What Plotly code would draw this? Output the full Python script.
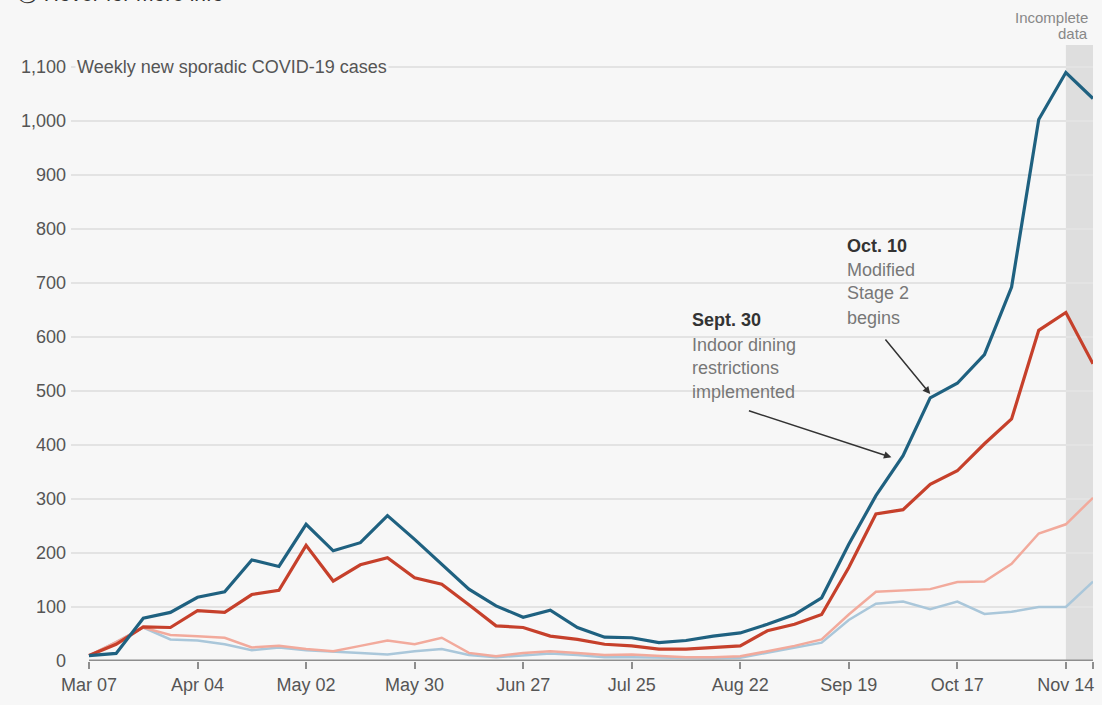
import plotly.graph_objects as go
import pandas as pd

# ---- data -------------------------------------------------------------
start_date = "2020-03-07"
n_weeks = 38
dates = pd.date_range(start_date, periods=n_weeks, freq="7D")

blue = [10, 14, 79, 90, 118, 128, 187, 175, 253, 204, 219, 269, 225, 180, 133, 102,
        81, 94, 62, 44, 43, 34, 38, 46, 52, 68, 86, 117, 216, 306, 380, 487, 514,
        567, 692, 1002, 1089, 1041]
red = [10, 31, 63, 62, 93, 90, 123, 131, 214, 148, 178, 191, 154, 142, 104, 65,
       62, 46, 40, 31, 28, 22, 22, 25, 28, 56, 68, 86, 173, 272, 280, 327, 352,
       402, 448, 612, 645, 550]
light_red = [10, 35, 62, 48, 46, 43, 25, 28, 22, 18, 28, 38, 31, 43, 15, 9, 15,
             18, 15, 11, 12, 9, 7, 7, 9, 18, 28, 40, 86, 128, 130, 133, 146, 147,
             180, 236, 253, 302]
light_blue = [10, 35, 62, 40, 38, 31, 20, 25, 20, 18, 15, 12, 18, 22, 11, 7, 11,
              14, 11, 7, 7, 6, 5, 5, 6, 15, 25, 34, 76, 106, 110, 96, 110, 87, 91,
              100, 100, 147]

tick_dates = ["2020-03-07", "2020-04-04", "2020-05-02", "2020-05-30", "2020-06-27",
              "2020-07-25", "2020-08-22", "2020-09-19", "2020-10-17", "2020-11-14",
              "2020-11-21"]
tick_labels = ["Mar 07", "Apr 04", "May 02", "May 30", "Jun 27", "Jul 25", "Aug 22",
               "Sep 19", "Oct 17", "Nov 14", ""]
y_ticks = [0, 100, 200, 300, 400, 500, 600, 700, 800, 900, 1000, 1100]
y_labels = ["0", "100", "200", "300", "400", "500", "600", "700", "800", "900",
            "1,000", "1,100"]

incomplete_start = "2020-11-14"
incomplete_end = "2020-11-21"
sept30 = "2020-09-30"
oct10 = "2020-10-10"

# ---- layout geometry ---------------------------------------------------
W, H = 1102, 705
L, R, T, B = 71, 9, 45, 44
PW = W - L - R
PH = H - T - B
FONT = "Liberation Sans, Arial, Helvetica, sans-serif"
BG = "#f7f7f7"


def px(x):
    return (x - L) / PW


def py(y):
    return (H - B - y) / PH


fig = go.Figure()

series = [
    (light_blue, "#aac7da", 2.5),
    (light_red, "#f2aa9c", 2.5),
    (red, "#c6402b", 3.2),
    (blue, "#1f6180", 3.2),
]
for vals, col, w in series:
    fig.add_trace(go.Scatter(x=dates, y=vals, mode="lines",
                             line=dict(color=col, width=w),
                             hoverinfo="x+y", showlegend=False))

shapes = [
    dict(type="rect", xref="x", yref="paper", x0=incomplete_start, x1=incomplete_end,
         y0=0, y1=1, fillcolor="#dedede", line=dict(width=0), layer="below"),
    dict(type="line", xref="x", yref="y", x0=tick_dates[0], x1=incomplete_end,
         y0=0, y1=0, line=dict(color="#8e8e8e", width=3), layer="above"),
]

annotations = []


def text(x, y, s, size=18, color="#777", bold=False, xanchor="left", bg=None):
    d = dict(xref="paper", yref="paper", x=px(x), y=py(y), text=("<b>%s</b>" % s if bold else s),
             showarrow=False, xanchor=xanchor, yanchor="middle",
             font=dict(family=FONT, size=size, color=color))
    if bg:
        d["bgcolor"] = bg
    annotations.append(d)


text(75, 67, "Weekly new sporadic COVID-19 cases", size=18, color="#555", bg=BG)

# Sept 30
text(690, 320, "Sept. 30", color="#333", bold=True)
text(690, 345, "Indoor dining")
text(690, 368, "restrictions")
text(690, 392, "implemented")
# Oct 10
text(845, 246, "Oct. 10", color="#333", bold=True)
text(845, 270, "Modified")
text(845, 293, "Stage 2")
text(845, 318, "begins")

# incomplete data
text(1090, 17, "Incomplete", size=15, color="#888", xanchor="right")
text(1090, 33, "data", size=15, color="#888", xanchor="right")

# hover hint at the very top (cut off in the reference too)
annotations.append(dict(xref="paper", yref="paper", x=px(15), y=py(7), text="ⓘ Hover for more info",
                        showarrow=False, xanchor="left", yanchor="bottom",
                        font=dict(family=FONT, size=21, color="#333")))

# arrows
annotations.append(dict(xref="x", yref="y", x=sept30, y=377, text="", showarrow=True,
                        ax=-144, ay=-47, arrowhead=2, arrowsize=1, arrowwidth=1.5,
                        arrowcolor="#333", standoff=0))
annotations.append(dict(xref="x", yref="y", x=oct10, y=494, text="", showarrow=True,
                        ax=-46, ay=-56, arrowhead=2, arrowsize=1, arrowwidth=1.5,
                        arrowcolor="#333", standoff=0))

xr0 = pd.Timestamp(tick_dates[0]) - pd.Timedelta(days=7 * 18 / 27.14)
fig.update_layout(
    width=W, height=H, autosize=False,
    margin=dict(l=L, r=R, t=T, b=B, pad=0),
    paper_bgcolor=BG, plot_bgcolor=BG,
    font=dict(family=FONT, size=18, color="#555"),
    shapes=shapes, annotations=annotations,
    showlegend=False,
    xaxis=dict(type="date", range=[xr0, pd.Timestamp(incomplete_end)],
               tickvals=tick_dates, ticktext=tick_labels,
               ticks="outside", ticklen=7, tickwidth=2, tickcolor="#8e8e8e",
               showgrid=False, zeroline=False, showline=False,
               tickfont=dict(family=FONT, size=18, color="#555")),
    yaxis=dict(range=[0, 1140], tickvals=y_ticks, ticktext=y_labels,
               showgrid=True, gridcolor="#e3e3e3", gridwidth=1.5,
               zeroline=False, showline=False, ticks="",
               ticklabelstandoff=4,
               tickfont=dict(family=FONT, size=18, color="#555")),
)

fig.write_html("out.html")
